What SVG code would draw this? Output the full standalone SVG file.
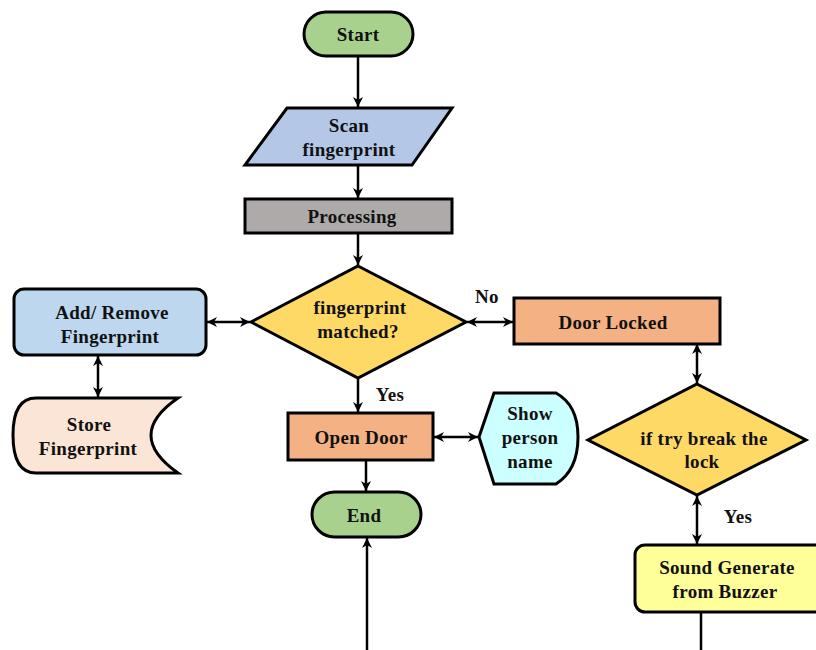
<svg xmlns="http://www.w3.org/2000/svg" width="816" height="650" viewBox="0 0 816 650">
<defs>
<marker id="ah" viewBox="0 0 10 10" refX="10" refY="5" markerWidth="4" markerHeight="4" orient="auto-start-reverse" markerUnits="strokeWidth">
<path d="M0,0 L10,5 L0,10 L3,5 z" fill="#000"/>
</marker>
<style>
.n{stroke:#000;stroke-width:3}
.t{font-family:"Liberation Serif","Times New Roman",serif;font-weight:bold;font-size:19px;letter-spacing:0.3px;fill:#111;text-anchor:middle;dominant-baseline:central}
.c{stroke:#000;stroke-width:2.5;fill:none}
.a{marker-end:url(#ah)}
.b{marker-start:url(#ah);marker-end:url(#ah)}
</style>
</defs>
<rect width="816" height="650" fill="#fff"/>
<g id="connectors">
<line class="c a" x1="358" y1="56" x2="358" y2="107"/>
<line class="c a" x1="358" y1="165" x2="358" y2="198"/>
<line class="c a" x1="358" y1="233" x2="358" y2="265"/>
<line class="c b" x1="207" y1="322" x2="250" y2="322"/>
<line class="c b" x1="98" y1="356" x2="98" y2="397"/>
<line class="c b" x1="467" y1="322" x2="513" y2="322"/>
<line class="c a" x1="358" y1="378" x2="358" y2="412"/>
<line class="c b" x1="434" y1="437" x2="478" y2="437"/>
<line class="c a" x1="366" y1="460" x2="366" y2="491"/>
<line class="c a" x1="367" y1="650" x2="367" y2="538"/>
<line class="c b" x1="697" y1="344" x2="697" y2="383"/>
<line class="c b" x1="697" y1="496" x2="697" y2="544"/>
<line class="c" x1="701" y1="612" x2="701" y2="650"/>
<text class="t" x="390" y="394">Yes</text>
<text class="t" x="487" y="296">No</text>
<text class="t" x="738" y="516">Yes</text>
</g>
<g id="start">
<rect class="n" x="304" y="12" width="109" height="44" rx="22" fill="#a9d18e"/>
<text class="t" x="358" y="34">Start</text>
</g>
<g id="scan">
<polygon class="n" points="287,108 452,108 412,165 245,165" fill="#b4c7e7"/>
<text class="t" x="349" y="125">Scan</text>
<text class="t" x="349" y="149">fingerprint</text>
</g>
<g id="processing">
<rect class="n" x="245" y="199" width="207" height="34" fill="#aeaaaa"/>
<text class="t" x="352" y="216">Processing</text>
</g>
<g id="matched">
<polygon class="n" points="358,266 466,322 358,378 251,322" fill="#ffd966"/>
<text class="t" x="360" y="307">fingerprint</text>
<text class="t" x="358" y="331">matched?</text>
</g>
<g id="addremove">
<rect class="n" x="14" y="289" width="192" height="66" rx="10" fill="#bdd7ee"/>
<text class="t" x="112" y="312">Add/ Remove</text>
<text class="t" x="110" y="336">Fingerprint</text>
</g>
<g id="store">
<path class="n" d="M36,398 L178,398 Q124,435 178,473 L36,473 Q13,473 13,435 Q13,398 36,398 Z" fill="#fbe5d6"/>
<text class="t" x="89" y="424">Store</text>
<text class="t" x="88" y="448">Fingerprint</text>
</g>
<g id="opendoor">
<rect class="n" x="288" y="413" width="145" height="47" fill="#f4b183"/>
<text class="t" x="361" y="437">Open Door</text>
</g>
<g id="show">
<path class="n" d="M479,437 L494,393 L556,393 Q578,405 578,437 Q578,470 556,484 L494,484 Z" fill="#ccffff"/>
<text class="t" x="530" y="413">Show</text>
<text class="t" x="530" y="437">person</text>
<text class="t" x="530" y="461">name</text>
</g>
<g id="end">
<rect class="n" x="312" y="492" width="109" height="45" rx="22.5" fill="#a9d18e"/>
<text class="t" x="364" y="515">End</text>
</g>
<g id="doorlocked">
<rect class="n" x="514" y="298" width="206" height="46" fill="#f4b183"/>
<text class="t" x="613" y="322">Door Locked</text>
</g>
<g id="breaklock">
<polygon class="n" points="697,384 806,440 697,495 588,440" fill="#ffd966"/>
<text class="t" x="704" y="438">if try break the</text>
<text class="t" x="702" y="461">lock</text>
</g>
<g id="buzzer">
<rect class="n" x="635" y="545" width="195" height="67" rx="10" fill="#ffff99"/>
<text class="t" x="727" y="567">Sound Generate</text>
<text class="t" x="725" y="591">from Buzzer</text>
</g>
</svg>
